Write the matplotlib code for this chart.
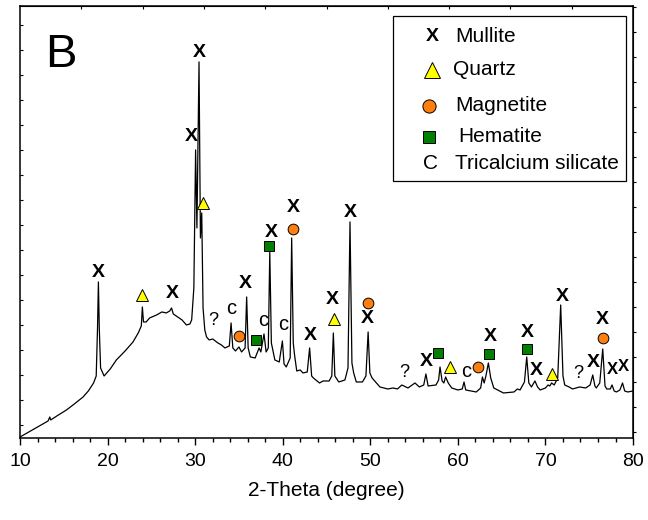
import numpy as np
import matplotlib
matplotlib.use("Agg")
import matplotlib.pyplot as plt
from matplotlib.patches import Rectangle

plt.rcParams['font.family'] = ['Liberation Sans', 'DejaVu Sans']

# XRD pattern (2-theta in degrees, intensity in arbitrary units)
two_theta = [10.0, 10.8, 11.6, 12.4, 13.2, 13.4, 13.5, 14.2, 15.3, 16.2, 17.2, 17.8, 18.4, 18.7,
             18.85, 18.95, 19.05, 19.2, 19.6, 20.3, 21.0, 22.0, 22.9, 23.5, 23.85, 23.97, 24.1,
             24.4, 24.8, 25.6, 26.2, 26.7, 27.1, 27.3, 27.5, 28.0, 28.5, 29.0, 29.4, 29.6, 29.85,
             30.05, 30.2, 30.44, 30.6, 30.75, 30.9, 31.1, 31.3, 31.6, 32.0, 32.6, 33.0, 33.4, 33.9,
             34.1, 34.3, 34.6, 35.0, 35.3, 35.7, 35.88, 36.05, 36.3, 36.85, 37.3, 37.5, 37.86, 38.1,
             38.35, 38.52, 38.7, 39.1, 39.6, 39.96, 40.15, 40.4, 40.85, 41.02, 41.2, 41.35, 41.6,
             42.0, 42.3, 42.8, 43.07, 43.3, 43.5, 44.2, 44.6, 45.3, 45.6, 45.78, 45.95, 46.4, 47.1,
             47.45, 47.68, 47.9, 48.1, 48.4, 49.1, 49.5, 49.75, 49.95, 50.2, 51.1, 52.0, 52.6, 53.1,
             53.6, 54.3, 55.1, 55.6, 56.1, 56.35, 56.6, 57.5, 57.8, 57.96, 58.2, 58.4, 58.6, 58.9,
             59.3, 60.0, 60.5, 60.7, 60.9, 61.5, 62.1, 62.6, 62.8, 63.0, 63.2, 63.48, 63.75, 64.1,
             65.2, 66.4, 66.8, 67.1, 67.6, 67.86, 68.1, 68.4, 68.8, 69.1, 69.4, 70.0, 70.3, 70.5,
             70.7, 71.0, 71.4, 71.74, 72.0, 72.2, 72.7, 73.1, 73.5, 73.9, 74.6, 75.1, 75.4, 75.65,
             75.8, 76.2, 76.54, 76.8, 77.0, 77.4, 77.6, 77.85, 78.1, 78.5, 78.8, 79.05, 79.4, 80.0]
intensity = [1, 5, 9, 13, 17, 21, 18, 22, 28, 34, 41, 47, 55, 62,
             110, 156, 110, 70, 62, 69, 78, 87, 96, 105, 112, 131, 116,
             116, 120, 123, 126, 125, 127, 130, 124, 121, 118, 113, 114, 118, 150,
             288, 210, 376, 200, 225, 130, 108, 101, 98, 99, 95, 93, 90, 92,
             115, 90, 87, 91, 86, 90, 141, 90, 81, 80, 90, 86, 104, 86,
             90, 186, 95, 78, 76, 97, 74, 71, 80, 200, 95, 83, 67,
             68, 65, 66, 90, 62, 60, 55, 57, 57, 62, 105, 62, 56, 58,
             70, 216, 75, 65, 56, 56, 62, 106, 65, 60, 51, 49, 50, 49,
             53, 50, 55, 51, 53, 64, 52, 53, 58, 71, 57, 55, 61, 55,
             50, 48, 49, 56, 48, 47, 46, 50, 61, 55, 62, 75, 60, 50,
             45, 46, 49, 48, 56, 81, 55, 51, 57, 51, 48, 50, 53, 52,
             55, 53, 60, 133, 62, 53, 51, 49, 50, 51, 50, 53, 63, 52,
             50, 55, 89, 52, 49, 49, 53, 47, 46, 48, 55, 47, 46, 47]

# phase identification marks (2-theta, height)
mullite = [(18.94, 165), (27.44, 144), (29.61, 301), (30.44, 385), (35.77, 154), (38.66, 205),
           (41.21, 230), (43.12, 102), (45.66, 138), (47.68, 225), (49.71, 119), (56.44, 76),
           (63.67, 101), (67.98, 105), (68.92, 67), (71.97, 141), (75.47, 75), (76.54, 118),
           (77.6, 68), (78.95, 71)]
quartz = [(23.97, 143), (30.93, 235), (45.86, 119), (59.10, 71), (70.72, 64)]
magnetite = [(35.01, 102), (41.14, 209), (49.78, 135), (62.27, 71), (76.62, 100)]
hematite = [(36.95, 98), (38.47, 192), (57.77, 85), (63.56, 84), (67.86, 89)]
tricalcium = [(34.17, 129), (37.78, 117), (40.0, 113), (60.9, 66)]
unknown = [(32.07, 117), (53.88, 65), (73.75, 64)]

fig = plt.figure(figsize=(6.48, 5.2), dpi=100)
ax = fig.add_axes([0.0309, 0.1577, 0.946, 0.831])

ax.plot(two_theta, intensity, color='black', lw=0.9)

xfont = ['Liberation Sans Narrow', 'Liberation Sans']
for x, y in mullite:
    # the last two labels sit close together, so they are a bit smaller
    fs = 12 if x > 77 else 14
    ax.text(x, y, 'X', ha='center', va='center', fontsize=fs, fontweight='bold', family=xfont)
for x, y in quartz:
    ax.plot(x, y, '^', ms=8, mfc='#FFFF00', mec='black', mew=0.7)
for x, y in magnetite:
    ax.plot(x, y, 'o', ms=7.7, mfc='#FF7F0E', mec='black', mew=0.7)
for x, y in hematite:
    ax.plot(x, y, 's', ms=6.5, mfc='#007F00', mec='black', mew=0.7)
for x, y in tricalcium:
    ax.text(x, y, 'c', ha='center', va='center', fontsize=14.5)
for x, y in unknown:
    ax.text(x, y, '?', ha='center', va='center', fontsize=13)

ax.set_xlim(10, 80)
ax.set_ylim(0, 432)
ax.set_xticks(np.arange(10, 81, 10))
ax.set_xticks(np.arange(10, 81, 2), minor=True)
ax.set_yticks(np.arange(13, 432, 25))
ax.set_yticklabels([])
ax.tick_params(axis='x', which='major', direction='out', length=5, width=1, labelsize=14, pad=6)
ax.tick_params(axis='x', which='minor', direction='out', length=3, width=1)
ax.tick_params(axis='y', direction='in', length=2, width=0.8, left=True)
ax.set_xlabel('2-Theta (degree)', fontsize=15, labelpad=8)
for s in ax.spines.values():
    s.set_linewidth(1.1)

top = ax.secondary_xaxis('top')
top.set_xticks(np.arange(17, 80, 7))
top.tick_params(direction='in', length=2, width=0.8, labeltop=False)
right = ax.secondary_yaxis('right')
right.set_yticks(np.arange(6, 432, 25))
right.tick_params(direction='out', length=2, width=0.8, labelright=False)

ax.text(0.067, 0.887, 'B', transform=ax.transAxes, ha='center', va='center', fontsize=34)

# legend box drawn by hand
ax.add_patch(Rectangle((0.6085, 0.5949), 0.3801, 0.382, transform=ax.transAxes,
                       fill=False, edgecolor='black', lw=0.9))
ax.text(0.6732, 0.929, 'X', transform=ax.transAxes, ha='center', va='center',
        fontsize=14, fontweight='bold', family=xfont)
ax.plot(0.6716, 0.8519, '^', ms=12, mfc='#FFFF00', mec='black', mew=0.7, transform=ax.transAxes)
ax.plot(0.6672, 0.7685, 'o', ms=9.5, mfc='#FF7F0E', mec='black', mew=0.7, transform=ax.transAxes)
ax.plot(0.6672, 0.6968, 's', ms=8, mfc='#007F00', mec='black', mew=0.7, transform=ax.transAxes)
ax.text(0.6688, 0.6343, 'C', transform=ax.transAxes, ha='center', va='center', fontsize=15)
names = ['Mullite', 'Quartz', 'Magnetite', 'Hematite', 'Tricalcium silicate']
name_x = [0.7096, 0.7064, 0.7096, 0.7145, 0.7096]
name_y = [0.929, 0.8519, 0.7685, 0.6968, 0.6343]
for n, x, y in zip(names, name_x, name_y):
    ax.text(x, y, n, transform=ax.transAxes, ha='left', va='center', fontsize=15)

fig.savefig('out.png', dpi=100)
